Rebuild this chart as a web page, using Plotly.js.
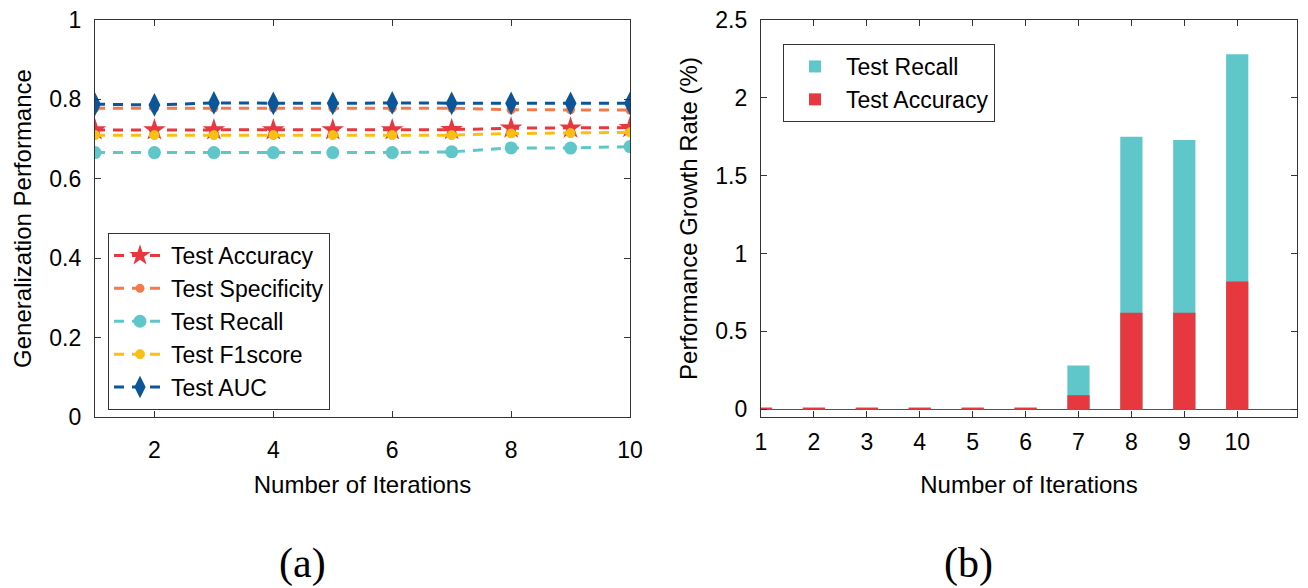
<!DOCTYPE html>
<html><head><meta charset="utf-8">
<script src="https://cdn.plot.ly/plotly-3.0.1.min.js"></script>
<style>html,body{margin:0;padding:0;background:#fff}#chart{width:1308px;height:588px}</style>
</head><body><div id="chart"></div>
<script>
const iterations = [1,2,3,4,5,6,7,8,9,10];
const testAccuracy    = [0.723,0.723,0.723,0.723,0.723,0.723,0.7237,0.7275,0.7275,0.729];
const testSpecificity = [0.778,0.778,0.778,0.778,0.778,0.778,0.778,0.774,0.774,0.773];
const testRecall      = [0.666,0.666,0.666,0.666,0.666,0.666,0.6679,0.6777,0.6775,0.6812];
const testF1score     = [0.710,0.710,0.710,0.710,0.710,0.710,0.710,0.714,0.715,0.717];
const testAUC         = [0.788,0.786,0.791,0.790,0.790,0.791,0.790,0.790,0.790,0.790];
const growthRecall    = [0.01,0.01,0.01,0.01,0.01,0.01,0.28,1.75,1.73,2.28];
const growthAccuracy  = [0.01,0.01,0.01,0.01,0.01,0.01,0.09,0.62,0.62,0.82];
const xTicksA = [2,4,6,8,10];
const yTicksA = [0,0.2,0.4,0.6,0.8,1];
const xTicksB = [1,2,3,4,5,6,7,8,9,10];
const yTicksB = [0,0.5,1,1.5,2,2.5];

const C = {red:'#E8383F', orange:'#F47A4B', teal:'#5FC7CA', yellow:'#F9C013', blue:'#0B5599'};
const font = {family:'Liberation Sans, Arial, sans-serif', size:24, color:'#000'};
const tickfont = {family:'Liberation Sans, Arial, sans-serif', size:23, color:'#000'};
const legfont = {family:'Liberation Sans, Arial, sans-serif', size:23, color:'#000'};

function lineTrace(name, y, color, symbol, size, extra){
  const t = {type:'scatter', mode:'lines+markers', x:iterations, y:y, name:name,
    line:{color:color, width:3, dash:'10px,8px'},
    marker:{color:color, symbol:symbol, size:size},
    xaxis:'x', yaxis:'y'};
  if (extra) Object.assign(t.marker, extra);
  return t;
}
const traces = [
  lineTrace('Test Accuracy', testAccuracy, C.red, 'star', 17),
  lineTrace('Test Specificity', testSpecificity, C.orange, 'circle', 9),
  lineTrace('Test Recall', testRecall, C.teal, 'circle', 13),
  lineTrace('Test F1score', testF1score, C.yellow, 'asterisk-open', 8, {line:{color:C.yellow, width:3.5}}),
  lineTrace('Test AUC', testAUC, C.blue, 'diamond-tall', 17),
  {type:'bar', x:iterations, y:growthRecall, name:'Test Recall', marker:{color:C.teal}, width:0.42, xaxis:'x2', yaxis:'y2', legend:'legend2'},
  {type:'bar', x:iterations, y:growthAccuracy, name:'Test Accuracy', marker:{color:C.red}, width:0.42, xaxis:'x2', yaxis:'y2', legend:'legend2'}
];

const W=1308, H=588;
const axBase = {showgrid:false, zeroline:false, showline:true, linecolor:'#333', linewidth:1.2,
  mirror:'ticks', ticks:'inside', ticklen:6, tickcolor:'#333', tickfont:tickfont};
const layout = {
  width:W, height:H, margin:{l:0,r:0,t:0,b:0}, paper_bgcolor:'#fff', plot_bgcolor:'#fff',
  font:font, barmode:'overlay', showlegend:true,
  xaxis: Object.assign({}, axBase, {domain:[95/W, 630/W], range:[1,10], tickvals:xTicksA, ticklabelstandoff:12,
    title:{text:'Number of Iterations', font:font, standoff:14}, anchor:'y'}),
  yaxis: Object.assign({}, axBase, {domain:[1-417/H, 1-20/H], range:[0,1], tickvals:yTicksA, ticklabelstandoff:8,
    title:{text:'Generalization Performance', font:font, standoff:10}, anchor:'x'}),
  xaxis2: Object.assign({}, axBase, {domain:[761/W, 1297/W], range:[1,11.13], tickvals:xTicksB, ticklabelstandoff:4,
    title:{text:'Number of Iterations', font:font, standoff:22}, anchor:'y2'}),
  yaxis2: Object.assign({}, axBase, {domain:[1-417/H, 1-20/H], range:[-0.05,2.5], tickvals:yTicksB, ticklabelstandoff:8,
    zeroline:true, zerolinecolor:'#555', zerolinewidth:1,
    title:{text:'Performance Growth Rate (%)', font:font, standoff:10}, anchor:'x2'}),
  legend:{x:108/W, y:1-233/H, xanchor:'left', yanchor:'top', bgcolor:'#fff', bordercolor:'#333', borderwidth:1,
    font:legfont, tracegroupgap:0, itemwidth:52},
  legend2:{x:783/W, y:1-44/H, xanchor:'left', yanchor:'top', bgcolor:'#fff', bordercolor:'#333', borderwidth:1,
    font:legfont, itemwidth:52},
  annotations:[
    {text:'(a)', xref:'paper', yref:'paper', x:302/W, y:1-563/H, xanchor:'center', yanchor:'middle', showarrow:false,
     font:{family:'Liberation Serif, DejaVu Serif, serif', size:42, color:'#000'}},
    {text:'(b)', xref:'paper', yref:'paper', x:968/W, y:1-563/H, xanchor:'center', yanchor:'middle', showarrow:false,
     font:{family:'Liberation Serif, DejaVu Serif, serif', size:42, color:'#000'}}
  ]
};
Plotly.newPlot('chart', traces, layout, {displayModeBar:false, staticPlot:true});
</script></body></html>
